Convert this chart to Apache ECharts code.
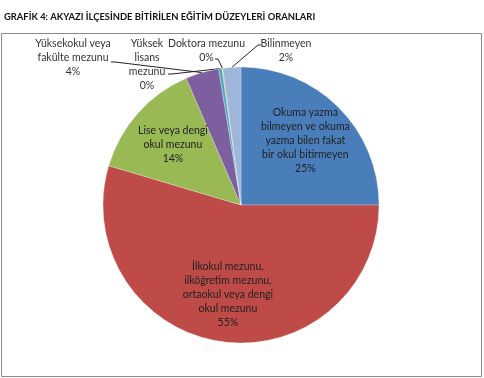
<!DOCTYPE html>
<html>
<head>
<meta charset="utf-8">
<script src="https://cdn.jsdelivr.net/npm/echarts@6/dist/echarts.min.js"></script>
<style>
html,body{margin:0;padding:0;background:#fff;}
#chart{width:484px;height:378px;}
</style>
</head>
<body>
<div id="chart"></div>
<script>
const categories = [
  "Okuma yazma\nbilmeyen ve okuma\nyazma bilen fakat\nbir okul bitirmeyen",
  "İlkokul mezunu,\nilköğretim mezunu,\nortaokul veya dengi\nokul mezunu",
  "Lise veya dengi\nokul mezunu",
  "Yüksekokul veya\nfakülte mezunu",
  "Yüksek\nlisans\nmezunu",
  "Doktora mezunu",
  "Bilinmeyen"
];
const values = [25.0, 54.6, 13.9, 3.9, 0.4, 0.1, 2.1];
const colors = ["#4A7EBB", "#BE4B48", "#98B954", "#7D5FA0", "#4BACC6", "#F79646", "#9DB6DA"];
const insideIdx = [0, 1, 2];

const FONT = "Lato";
const chart = echarts.init(document.getElementById('chart'));

function pctLabel(p) { return p.name + "\n" + Math.round(p.value) + "%"; }

// outer label placement (label centre) and leader-line elbow/end points
const outerPos = {
  3: {x: 73, y: 57.5, line: [[115, 62], [111, 62]]},
  4: {x: 147, y: 64.5, line: [[172, 74], [168, 74]]},
  5: {x: 206.5, y: 51, line: [[218, 59], [215, 59]]},
  6: {x: 286, y: 51, line: [[258, 45], [261, 45]]}
};

const mainData = values.map((v, i) => ({
  value: v,
  name: categories[i],
  itemStyle: {color: colors[i]},
  label: {show: !insideIdx.includes(i)},
  labelLine: {show: !insideIdx.includes(i)}
}));
const overlayData = values.map((v, i) => ({
  value: v,
  name: categories[i],
  itemStyle: {color: 'rgba(0,0,0,0)'},
  label: {show: insideIdx.includes(i)}
}));

chart.setOption({
  animation: false,
  title: {
    text: "GRAFİK 4: AKYAZI İLÇESİNDE BİTİRİLEN EĞİTİM DÜZEYLERİ ORANLARI",
    left: -1, top: 7,
    textStyle: {fontFamily: FONT, fontSize: 9.4, fontWeight: 'bold', color: '#111'}
  },
  graphic: [{
    type: 'rect',
    shape: {x: 1.5, y: 33.5, width: 480, height: 343},
    style: {fill: 'none', stroke: '#8a8a8a', lineWidth: 1},
    silent: true
  }],
  series: [{
    type: 'pie',
    center: [241, 205],
    radius: [0, 138],
    startAngle: 90,
    clockwise: true,
    avoidLabelOverlap: false,
    data: mainData,
    itemStyle: {borderColor: 'rgba(255,255,255,0.5)', borderWidth: 0.5},
    label: {
      position: 'outside',
      formatter: pctLabel,
      fontFamily: FONT, fontSize: 10.5, lineHeight: 14,
      color: '#333', align: 'center'
    },
    labelLine: {show: true, lineStyle: {color: '#222', width: 1}},
    labelLayout: function (p) {
      const o = outerPos[p.dataIndex];
      if (!o) return {};
      const pts = p.labelLinePoints;
      return {
        x: o.x, y: o.y, align: 'center', verticalAlign: 'middle',
        labelLinePoints: pts ? [pts[0], o.line[0], o.line[1]] : undefined
      };
    },
    emphasis: {disabled: true}
  }, {
    type: 'pie',
    center: [241, 205],
    radius: [38, 138],
    startAngle: 90,
    clockwise: true,
    silent: true,
    data: overlayData,
    label: {
      position: 'inside',
      formatter: pctLabel,
      fontFamily: FONT, fontSize: 10.5, lineHeight: 14,
      color: '#1f1f1f', align: 'center'
    },
    labelLine: {show: false},
    emphasis: {disabled: true}
  }]
});
</script>
</body>
</html>
